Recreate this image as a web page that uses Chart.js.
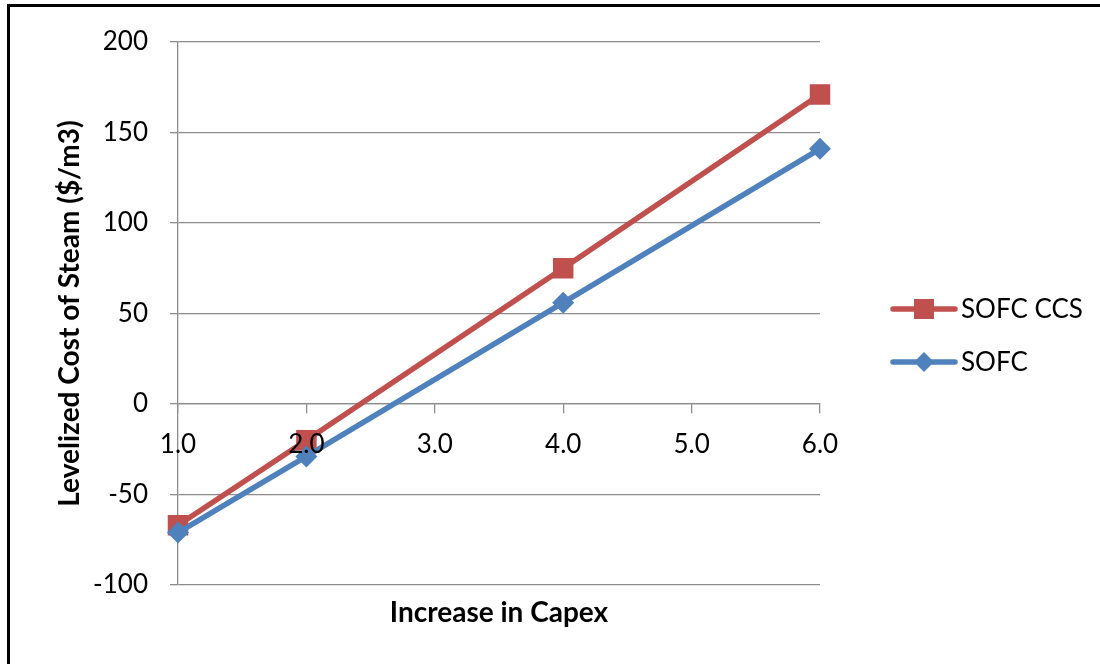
<!DOCTYPE html>
<html>
<head>
<meta charset="utf-8">
<script src="https://cdn.jsdelivr.net/npm/chart.js@4/dist/chart.umd.min.js"></script>
<style>
  html, body { margin: 0; padding: 0; background: #fff; }
  #wrap { position: relative; width: 1100px; height: 664px; overflow: hidden; }
  #frame { position: absolute; left: 7px; top: 4px; width: 1200px; height: 800px;
           border-left: 3px solid #000; border-top: 3px solid #000; pointer-events: none; }
  canvas { position: absolute; left: 0; top: 0; }
</style>
</head>
<body>
<div id="wrap">
  <canvas id="c" width="1100" height="664"></canvas>
  <div id="frame"></div>
</div>
<script>
// Capex multiplier on the x axis
const capexFactor = [1, 2, 4, 6];
// Levelized cost of steam, $/m3
const sofcCcs = [-67, -20, 75, 171];
const sofc = [-71, -29, 56, 141];
// Axis ranges and titles
const yTicks = { min: -100, max: 200, step: 50 };
const xTicks = { min: 1, max: 6, step: 1 };
const xTitle = 'Increase in Capex';
const yTitle = 'Levelized Cost of Steam ($/m3)';

const RED = '#C0504D';
const BLUE = '#4F81BD';
const GRID = '#8c8c8c';
const FONT = 'Lato';

Chart.defaults.font.family = FONT;
Chart.defaults.color = '#000';

const toPoints = (ys) => capexFactor.map((x, i) => ({ x, y: ys[i] }));

// Legend drawn to the right of the plot: a line with its marker, then the label
const sideLegend = {
  id: 'sideLegend',
  afterDraw(chart) {
    const ctx = chart.ctx;
    const x0 = chart.chartArea.right + 73;
    const rows = [
      { ds: chart.data.datasets[0], y: 309 },
      { ds: chart.data.datasets[1], y: 362 }
    ];
    ctx.save();
    rows.forEach(({ ds, y }) => {
      ctx.strokeStyle = ds.borderColor;
      ctx.lineWidth = 5.5;
      ctx.lineCap = 'round';
      ctx.beginPath();
      ctx.moveTo(x0, y);
      ctx.lineTo(x0 + 62, y);
      ctx.stroke();
      ctx.fillStyle = ds.borderColor;
      const cx = x0 + 31;
      if (ds.pointStyle === 'rect') {
        ctx.fillRect(cx - 10, y - 10, 20, 20);
      } else {
        ctx.beginPath();
        ctx.moveTo(cx, y - 10);
        ctx.lineTo(cx + 10, y);
        ctx.lineTo(cx, y + 10);
        ctx.lineTo(cx - 10, y);
        ctx.closePath();
        ctx.fill();
      }
      ctx.fillStyle = '#000';
      ctx.font = '26px ' + FONT;
      ctx.textBaseline = 'middle';
      ctx.textAlign = 'left';
      ctx.fillText(ds.label, x0 + 68, y + 1);
    });
    ctx.restore();
  }
};

new Chart(document.getElementById('c'), {
  type: 'line',
  data: {
    datasets: [
      {
        label: 'SOFC CCS',
        data: toPoints(sofcCcs),
        borderColor: RED,
        backgroundColor: RED,
        borderWidth: 5.5,
        pointStyle: 'rect',
        pointRadius: 14.5,
        pointBorderWidth: 0,
        tension: 0,
        clip: false,
        order: 1
      },
      {
        label: 'SOFC',
        data: toPoints(sofc),
        borderColor: BLUE,
        backgroundColor: BLUE,
        borderWidth: 5.5,
        pointStyle: 'rectRot',
        pointRadius: 11,
        pointBorderWidth: 0,
        tension: 0,
        clip: false,
        order: 0
      }
    ]
  },
  options: {
    responsive: false,
    animation: false,
    events: [],
    layout: { padding: { left: 0, top: 42, right: 280, bottom: 0 } },
    plugins: { legend: { display: false }, tooltip: { enabled: false } },
    scales: {
      x: {
        type: 'linear',
        position: { y: 0 },
        min: xTicks.min,
        max: xTicks.max,
        ticks: {
          stepSize: xTicks.step,
          font: { size: 26 },
          padding: 16,
          maxRotation: 0,
          z: 1,
          callback: (v) => Number(v).toFixed(1)
        },
        grid: { drawOnChartArea: false, drawTicks: true, tickLength: 9, color: GRID, lineWidth: 1.3 },
        border: { display: true, color: GRID, width: 1.3 }
      },
      xTitleAxis: {
        type: 'linear',
        position: 'bottom',
        ticks: { display: false },
        grid: { display: false },
        border: { display: false },
        title: {
          display: true,
          text: xTitle,
          font: { size: 28, weight: 'bold' },
          padding: { top: 0, bottom: 34 }
        },
        afterFit: (s) => { s.height = 79; }
      },
      y: {
        type: 'linear',
        min: yTicks.min,
        max: yTicks.max,
        ticks: { stepSize: yTicks.step, font: { size: 26 }, padding: 22 },
        grid: { color: GRID, lineWidth: 1.3, tickLength: 8, drawTicks: true },
        border: { display: true, color: GRID, width: 1.3 },
        title: {
          display: true,
          text: yTitle,
          font: { size: 28, weight: 'bold' },
          padding: { top: 53, bottom: 0 }
        },
        afterFit: (s) => { s.width = 178; }
      }
    }
  },
  plugins: [sideLegend]
});
</script>
</body>
</html>
